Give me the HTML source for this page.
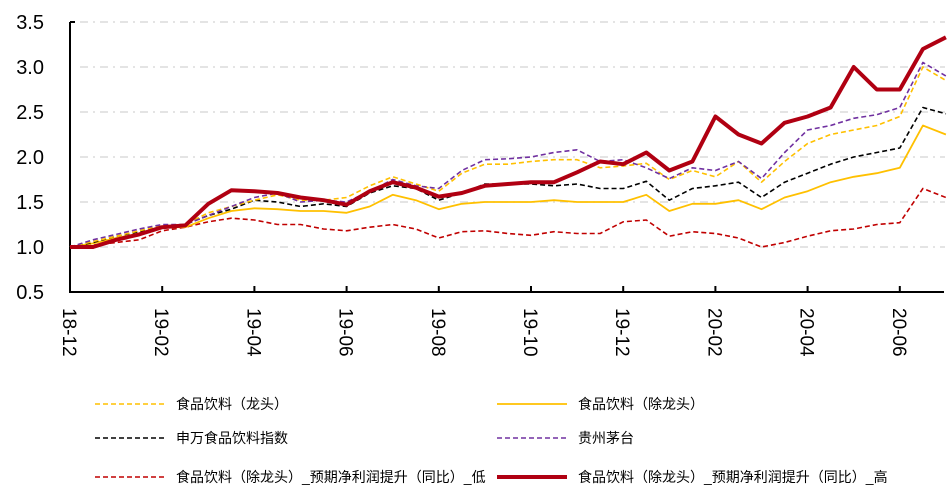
<!DOCTYPE html>
<html><head><meta charset="utf-8"><style>
body{margin:0;background:#fff;width:951px;height:495px;overflow:hidden;font-family:"Liberation Sans","Noto Sans CJK SC",sans-serif}
svg{display:block}
</style></head><body>
<svg id="chart" width="951" height="495">
<g id="grid"></g>
<g id="axes"></g>
<g id="series"></g>
<g id="legend"></g>
</svg>
<script>
const months=[0,0.5,1,1.5,2,2.5,3,3.5,4,4.5,5,5.5,6,6.5,7,7.5,8,8.5,9,9.5,10,10.5,11,11.5,12,12.5,13,13.5,14,14.5,15,15.5,16,16.5,17,17.5,18,18.5,19];
const tickLabels=["18-12","19-02","19-04","19-06","19-08","19-10","19-12","20-02","20-04","20-06"];
const tickMonths=[0,2,4,6,8,10,12,14,16,18];
const yTicks=[0.5,1.0,1.5,2.0,2.5,3.0,3.5];
const leaderVals=[1.0,1.06,1.12,1.18,1.24,1.25,1.38,1.45,1.52,1.58,1.52,1.52,1.55,1.68,1.78,1.7,1.62,1.82,1.92,1.92,1.95,1.97,1.97,1.88,1.9,1.93,1.75,1.85,1.78,1.95,1.72,1.95,2.15,2.25,2.3,2.35,2.45,3.0,2.85];
const exLeaderVals=[1.0,1.04,1.1,1.15,1.22,1.22,1.32,1.4,1.43,1.42,1.4,1.4,1.38,1.45,1.58,1.52,1.42,1.48,1.5,1.5,1.5,1.52,1.5,1.5,1.5,1.58,1.4,1.48,1.48,1.52,1.42,1.55,1.62,1.72,1.78,1.82,1.88,2.35,2.25];
const indexVals=[1.0,1.05,1.12,1.17,1.22,1.25,1.35,1.42,1.52,1.5,1.45,1.48,1.45,1.6,1.68,1.65,1.52,1.6,1.7,1.7,1.7,1.68,1.7,1.65,1.65,1.73,1.52,1.65,1.68,1.72,1.55,1.72,1.82,1.92,2.0,2.05,2.1,2.55,2.48];
const moutaiVals=[1.0,1.08,1.14,1.2,1.25,1.25,1.35,1.45,1.55,1.6,1.5,1.52,1.5,1.62,1.75,1.68,1.65,1.85,1.97,1.98,2.0,2.05,2.08,1.95,1.97,1.88,1.76,1.88,1.85,1.95,1.76,2.05,2.3,2.35,2.43,2.47,2.55,3.05,2.9];
const lowVals=[1.0,1.02,1.05,1.08,1.18,1.22,1.28,1.32,1.3,1.25,1.25,1.2,1.18,1.22,1.25,1.2,1.1,1.17,1.18,1.15,1.13,1.17,1.15,1.15,1.28,1.3,1.12,1.17,1.15,1.1,1.0,1.05,1.12,1.18,1.2,1.25,1.27,1.65,1.55];
const highVals=[1.0,1.0,1.08,1.14,1.22,1.24,1.48,1.63,1.62,1.6,1.55,1.52,1.47,1.62,1.72,1.66,1.56,1.6,1.68,1.7,1.72,1.72,1.83,1.95,1.92,2.05,1.85,1.95,2.45,2.25,2.15,2.38,2.45,2.55,3.0,2.75,2.75,3.2,3.33];

const NS="http://www.w3.org/2000/svg";
const X0=70,XS=46.1,Y0=292,YS=90;
const xs=m=>X0+m*XS, ys=v=>Y0-(v-0.5)*YS;
function mk(tag,attrs,parent){const e=document.createElementNS(NS,tag);for(const k in attrs)e.setAttribute(k,attrs[k]);parent.appendChild(e);return e;}
const grid=document.getElementById('grid'),axes=document.getElementById('axes'),ser=document.getElementById('series'),leg=document.getElementById('legend');
yTicks.forEach(v=>{
  if(v>0.5){const g=mk('line',{x1:80,x2:945,y1:ys(v),y2:ys(v),stroke:'#dcdcdc','stroke-width':1.5,'stroke-dasharray':'8 5 2 5'},grid);
  
  }
  const t=mk('text',{x:44,y:ys(v)+7,'text-anchor':'end','font-size':20,fill:'#000'},axes);
  t.textContent=v.toFixed(1);
  
  
});
let a=mk('line',{x1:X0,x2:X0,y1:ys(3.5),y2:Y0+1,stroke:'#000','stroke-width':2},axes);


a=mk('line',{x1:X0-1,x2:944,y1:Y0,y2:Y0,stroke:'#000','stroke-width':2},axes);


mk('line',{x1:X0,x2:X0+5,y1:ys(3.5),y2:ys(3.5),stroke:'#000','stroke-width':2},axes);
tickMonths.forEach((m,i)=>{
  const x=xs(m);
  if(i>0)mk('line',{x1:x,x2:x,y1:Y0,y2:Y0-6,stroke:'#000','stroke-width':2},axes);
  const t=mk('text',{x:0,y:0,'font-size':19,fill:'#000',transform:`translate(${x-7},308) rotate(90)`},axes);
  t.textContent=tickLabels[i];
  
  
});
const defs=[
 {v:lowVals,c:'#c00000',w:1.6,d:'5 3',n:'食品饮料（除龙头）_预期净利润提升（同比）_低'},
 {v:exLeaderVals,c:'#ffc000',w:1.8,d:'',n:'食品饮料（除龙头）'},
 {v:indexVals,c:'#000',w:1.6,d:'5 3',n:'申万食品饮料指数'},
 {v:leaderVals,c:'#ffc000',w:1.6,d:'5 3',n:'食品饮料（龙头）'},
 {v:moutaiVals,c:'#7030a0',w:1.6,d:'5 3',n:'贵州茅台'},
 {v:highVals,c:'#b00012',w:4,d:'',n:'食品饮料（除龙头）_预期净利润提升（同比）_高'}
];
const names=['line-low','line-ex-leader','line-index','line-leader','line-moutai','line-high'];
defs.forEach((s,i)=>{
  const p=mk('path',{d:s.v.map((v,j)=>(j?'L':'M')+xs(months[j]).toFixed(1)+','+ys(v).toFixed(1)).join(''),fill:'none',stroke:s.c,'stroke-width':s.w,'stroke-dasharray':s.d,'stroke-linejoin':'round'},ser);
  
  
});
const legItems=[[3,95,404],[1,497,404],[2,95,438],[4,497,438],[0,95,477],[5,497,477]];
legItems.forEach(([k,x,y])=>{
  const s=defs[k];
  const g=mk('g',{},leg);
  
  
  mk('line',{x1:x,x2:x+70,y1:y,y2:y,stroke:s.c,'stroke-width':s.w,'stroke-dasharray':s.d},g);
  const t=mk('text',{x:x+81,y:y+5,'font-size':14,fill:'#000'},g);
  t.textContent=s.n;
});
</script>
</body></html>
